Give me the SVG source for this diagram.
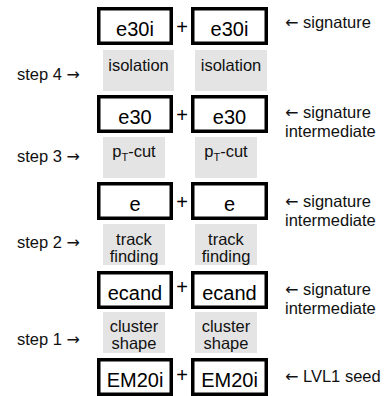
<svg xmlns="http://www.w3.org/2000/svg" width="389" height="396" viewBox="0 0 389 396">
<style>
.box{fill:#fff;stroke:#000;stroke-width:3.5}
.gray{fill:#e4e4e4;stroke:none}
.bt{font-family:"Liberation Sans",Arial,sans-serif;font-size:20px;fill:#000;text-anchor:middle}
.gt{font-family:"Liberation Sans",Arial,sans-serif;font-size:16.5px;fill:#111;text-anchor:middle}
.at{font-family:"Liberation Sans",Arial,sans-serif;font-size:16.5px;fill:#111}
.ar{font-family:"DejaVu Sans",sans-serif;font-size:16px}
.plus{font-family:"Liberation Sans",Arial,sans-serif;font-size:20px;fill:#000;text-anchor:middle}
</style>
<rect width="389" height="396" fill="#fff"/>
<g id="connectors">
<text class="plus" x="182" y="33.5">+</text>
<text class="plus" x="182" y="121.5">+</text>
<text class="plus" x="182" y="208.5">+</text>
<text class="plus" x="182" y="294">+</text>
<text class="plus" x="182" y="381.5">+</text>
</g>
<g id="row5">
<g id="e30i-l"><rect class="box" x="98.75" y="8.75" width="72.5" height="34.5"/><text class="bt" x="135" y="36">e30i</text></g>
<g id="e30i-r"><rect class="box" x="192.75" y="8.75" width="73.5" height="34.5"/><text class="bt" x="229.5" y="36">e30i</text></g>
<text class="at" x="285" y="28"><tspan class="ar">←</tspan> signature</text>
</g>
<g id="step4">
<text class="at" x="17" y="80">step 4 <tspan class="ar">→</tspan></text>
<g id="iso-l"><rect class="gray" x="103" y="50" width="71" height="41"/><text class="gt" x="138.5" y="71">isolation</text></g>
<g id="iso-r"><rect class="gray" x="195" y="50" width="72" height="41"/><text class="gt" x="231" y="71">isolation</text></g>
</g>
<g id="row4">
<g id="e30-l"><rect class="box" x="98.75" y="96.75" width="72.5" height="34.5"/><text class="bt" x="135" y="123.5">e30</text></g>
<g id="e30-r"><rect class="box" x="192.75" y="96.75" width="73.5" height="34.5"/><text class="bt" x="229.5" y="123.5">e30</text></g>
<text class="at" x="285" y="118"><tspan class="ar">←</tspan> signature</text>
<text class="at" x="285" y="137">intermediate</text>
</g>
<g id="step3">
<text class="at" x="17" y="162">step 3 <tspan class="ar">→</tspan></text>
<g id="pt-l"><rect class="gray" x="103" y="137" width="62" height="41"/><text class="gt" x="134" y="157">p<tspan font-size="11" dy="4">T</tspan><tspan dy="-4">-cut</tspan></text></g>
<g id="pt-r"><rect class="gray" x="195" y="137" width="62" height="41"/><text class="gt" x="226" y="157">p<tspan font-size="11" dy="4">T</tspan><tspan dy="-4">-cut</tspan></text></g>
</g>
<g id="row3">
<g id="e-l"><rect class="box" x="98.75" y="183.75" width="72.5" height="34.5"/><text class="bt" x="135" y="210.5">e</text></g>
<g id="e-r"><rect class="box" x="192.75" y="183.75" width="73.5" height="34.5"/><text class="bt" x="229.5" y="210.5">e</text></g>
<text class="at" x="285" y="207"><tspan class="ar">←</tspan> signature</text>
<text class="at" x="285" y="226">intermediate</text>
</g>
<g id="step2">
<text class="at" x="17" y="248">step 2 <tspan class="ar">→</tspan></text>
<g id="tf-l"><rect class="gray" x="103" y="224" width="62" height="41"/><text class="gt" x="134" y="245">track</text><text class="gt" x="134" y="262">finding</text></g>
<g id="tf-r"><rect class="gray" x="195" y="224" width="62" height="41"/><text class="gt" x="226" y="245">track</text><text class="gt" x="226" y="262">finding</text></g>
</g>
<g id="row2">
<g id="ecand-l"><rect class="box" x="98.75" y="272.75" width="72.5" height="34.5"/><text class="bt" x="135" y="299.5">ecand</text></g>
<g id="ecand-r"><rect class="box" x="192.75" y="272.75" width="73.5" height="34.5"/><text class="bt" x="229.5" y="299.5">ecand</text></g>
<text class="at" x="285" y="295"><tspan class="ar">←</tspan> signature</text>
<text class="at" x="285" y="314">intermediate</text>
</g>
<g id="step1">
<text class="at" x="17" y="345">step 1 <tspan class="ar">→</tspan></text>
<g id="cs-l"><rect class="gray" x="103" y="312" width="62" height="41"/><text class="gt" x="134" y="332">cluster</text><text class="gt" x="134" y="349">shape</text></g>
<g id="cs-r"><rect class="gray" x="195" y="312" width="62" height="41"/><text class="gt" x="226" y="332">cluster</text><text class="gt" x="226" y="349">shape</text></g>
</g>
<g id="row1">
<g id="em-l"><rect class="box" x="98.75" y="359.75" width="72.5" height="34.5"/><text class="bt" x="135" y="386.5">EM20i</text></g>
<g id="em-r"><rect class="box" x="192.75" y="359.75" width="73.5" height="34.5"/><text class="bt" x="229.5" y="386.5">EM20i</text></g>
<text class="at" x="285" y="382"><tspan class="ar">←</tspan> LVL1 seed</text>
</g>
</svg>
